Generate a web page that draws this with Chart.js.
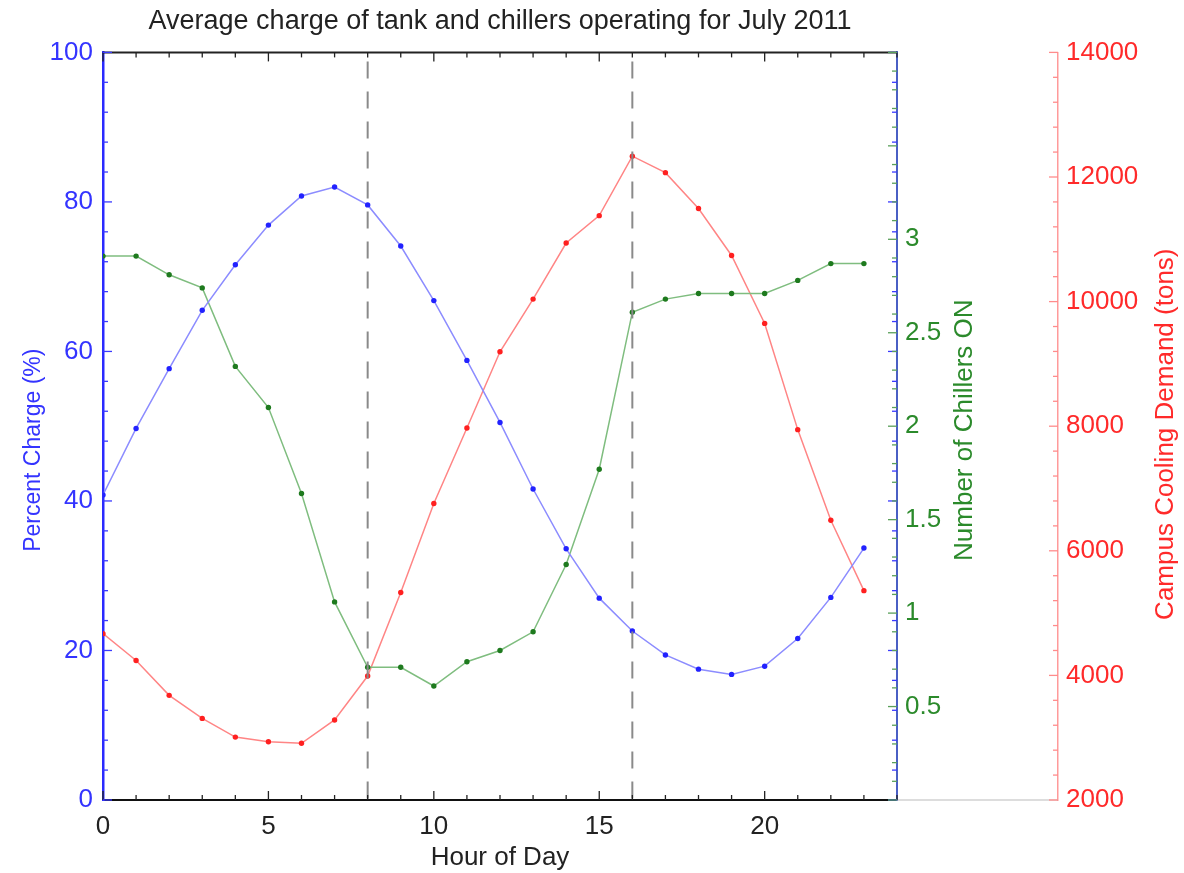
<!DOCTYPE html>
<html>
<head>
<meta charset="utf-8">
<title>Average charge of tank and chillers operating for July 2011</title>
<script src="https://cdn.jsdelivr.net/npm/chart.js@4/dist/chart.umd.min.js"></script>
<style>
  html, body { margin: 0; padding: 0; background: #fff; }
  #wrap { width: 1184px; height: 873px; }
</style>
</head>
<body>
<div id="wrap"><canvas id="chart"></canvas></div>
<script>
// hourly averages, July 2011
const hours = [0, 1, 2, 3, 4, 5, 6, 7, 8, 9, 10, 11, 12, 13, 14, 15, 16, 17, 18, 19, 20, 21, 22, 23];
const percentCharge = [40.8, 49.7, 57.7, 65.5, 71.6, 76.9, 80.8, 82.0, 79.6, 74.1, 66.8, 58.8,
                       50.5, 41.6, 33.6, 27.0, 22.6, 19.4, 17.5, 16.8, 17.9, 21.6, 27.1, 33.7];
const chillersOn = [2.91, 2.91, 2.81, 2.74, 2.32, 2.10, 1.64, 1.06, 0.71, 0.71, 0.61, 0.74,
                    0.80, 0.90, 1.26, 1.77, 2.61, 2.68, 2.71, 2.71, 2.71, 2.78, 2.87, 2.87];
const coolingDemand = [4670, 4240, 3680, 3310, 3010, 2935, 2910, 3285, 3990, 5330, 6760, 7970,
                       9195, 10040, 10940, 11380, 12335, 12070, 11495, 10740, 9650, 7945, 6490, 5360];
const switchHours = [8, 16];

// axis ticks
const hourTicks = [0, 5, 10, 15, 20];
const chargeTicks = [0, 20, 40, 60, 80, 100];
const chillerTicks = [0.5, 1, 1.5, 2, 2.5, 3];
const demandTicks = [2000, 4000, 6000, 8000, 10000, 12000, 14000];

const FONT = "'Liberation Sans', Arial, Helvetica, sans-serif";
const BLUE_TXT = '#3434ff', GREEN_TXT = '#2b8a2b', RED_TXT = '#ff2a2a';

function pts(vals) {
  return hours.map((h, i) => ({ x: h, y: vals[i] }));
}

const datasets = [
  ...switchHours.map(h => ({
    data: [{ x: h, y: 100 }, { x: h, y: 0 }],
    yAxisID: 'y',
    borderColor: '#8a8a8a',
    borderWidth: 2,
    borderDash: [17, 13],
    borderDashOffset: 21,
    pointRadius: 0
  })),
  {
    label: 'Percent Charge',
    data: pts(percentCharge),
    yAxisID: 'y',
    borderColor: '#8c8cff',
    borderWidth: 1.5,
    pointRadius: 2.7,
    pointBorderWidth: 0,
    pointBackgroundColor: '#2222ff'
  },
  {
    label: 'Number of Chillers ON',
    data: pts(chillersOn),
    yAxisID: 'yChillers',
    borderColor: '#7fbd7f',
    borderWidth: 1.5,
    pointRadius: 2.7,
    pointBorderWidth: 0,
    pointBackgroundColor: '#1e7a1e'
  },
  {
    label: 'Campus Cooling Demand',
    data: pts(coolingDemand),
    yAxisID: 'yDemand',
    borderColor: '#ff8585',
    borderWidth: 1.5,
    pointRadius: 2.7,
    pointBorderWidth: 0,
    pointBackgroundColor: '#ff2020'
  }
];

function line(ctx, x1, y1, x2, y2) {
  ctx.beginPath();
  ctx.moveTo(x1, y1);
  ctx.lineTo(x2, y2);
  ctx.stroke();
}

// IDL style inward ticks, top border and the rotated y titles
const idlAxes = {
  id: 'idlAxes',
  afterDraw(chart) {
    const { ctx, chartArea: a, scales } = chart;
    const x = scales.x, yc = scales.y, yg = scales.yChillers, yd = scales.yDemand;
    ctx.save();

    ctx.strokeStyle = '#bbbbbb';
    ctx.lineWidth = 1;
    line(ctx, a.right, a.bottom, yd.left, a.bottom);

    ctx.strokeStyle = '#222';
    ctx.lineWidth = 2;
    line(ctx, a.left, a.top, a.right, a.top);
    ctx.lineWidth = 1.3;
    for (let h = 0; h <= 24; h++) {
      const px = x.getPixelForValue(h);
      const len = h % 5 === 0 ? 9 : 5;
      line(ctx, px, a.bottom, px, a.bottom - len);
      line(ctx, px, a.top, px, a.top + len);
    }

    ctx.strokeStyle = '#3a3aff';
    for (let v = 0; v <= 100; v += 4) {
      const py = yc.getPixelForValue(v);
      const len = v % 20 === 0 ? 9 : 5;
      line(ctx, a.left, py, a.left + len, py);
      line(ctx, a.right, py, a.right - len, py);
    }

    ctx.strokeStyle = '#5aa05a';
    for (let i = 0; i <= 40; i++) {
      const py = yg.getPixelForValue(i / 10);
      const len = i % 5 === 0 ? 9 : 5;
      line(ctx, a.right, py, a.right - len, py);
    }

    ctx.strokeStyle = '#ff8c8c';
    for (let v = 2000; v <= 14000; v += 400) {
      const py = yd.getPixelForValue(v);
      const len = v % 2000 === 0 ? 9 : 5;
      line(ctx, yd.left, py, yd.left - len, py);
    }

    ctx.textAlign = 'center';
    ctx.textBaseline = 'middle';
    const midY = (a.top + a.bottom) / 2;
    [[yc.left + 34, midY + 24, 23, BLUE_TXT, 'Percent Charge (%)'],
     [yg.left + 68, midY + 4, 26, GREEN_TXT, 'Number of Chillers ON'],
     [yd.left + 108, midY + 8, 26, RED_TXT, 'Campus Cooling Demand (tons)']].forEach(([tx, ty, size, col, txt]) => {
      ctx.save();
      ctx.font = size + 'px ' + FONT;
      ctx.translate(tx, ty);
      ctx.rotate(-Math.PI / 2);
      ctx.fillStyle = col;
      ctx.fillText(txt, 0, 0);
      ctx.restore();
    });
    ctx.restore();
  }
};

const fixedTicks = list => scale => { scale.ticks = list.map(v => ({ value: v })); };
const plain = v => String(v);

new Chart(document.getElementById('chart'), {
  type: 'line',
  data: { datasets },
  plugins: [idlAxes],
  options: {
    responsive: true,
    maintainAspectRatio: false,
    animation: false,
    layout: { padding: 0 },
    plugins: {
      legend: { display: false },
      tooltip: { enabled: false },
      title: {
        display: true,
        fullSize: false,
        text: 'Average charge of tank and chillers operating for July 2011',
        color: '#222',
        font: { family: FONT, size: 27, weight: 'normal' },
        padding: { top: 5, bottom: 15 }
      }
    },
    scales: {
      x: {
        type: 'linear',
        min: 0,
        max: 24,
        afterBuildTicks: fixedTicks(hourTicks),
        afterFit: s => { s.height = 73; },
        grid: { display: false, drawTicks: false },
        border: { display: true, color: '#111', width: 2 },
        ticks: { color: '#222', padding: 11, font: { family: FONT, size: 26 }, callback: plain },
        title: {
          display: true,
          text: 'Hour of Day',
          color: '#222',
          font: { family: FONT, size: 26 },
          padding: { top: 0, bottom: 0 }
        }
      },
      y: {
        position: 'left',
        min: 0,
        max: 100,
        afterBuildTicks: fixedTicks(chargeTicks),
        afterFit: s => { s.width = 103; },
        grid: { display: false, drawTicks: false },
        border: { display: true, color: '#2a2aff', width: 2.5 },
        ticks: { color: BLUE_TXT, padding: 10, font: { family: FONT, size: 26 }, callback: plain }
      },
      yChillers: {
        position: 'right',
        weight: 1,
        min: 0,
        max: 4,
        afterBuildTicks: fixedTicks(chillerTicks),
        afterFit: s => { s.width = 161; },
        grid: { display: false, drawTicks: false },
        border: { display: true, color: '#4a5fc4', width: 2 },
        ticks: { color: GREEN_TXT, padding: 8, font: { family: FONT, size: 26 }, callback: plain }
      },
      yDemand: {
        position: 'right',
        weight: 2,
        min: 2000,
        max: 14000,
        afterBuildTicks: fixedTicks(demandTicks),
        afterFit: s => { s.width = 126; },
        grid: { display: false, drawTicks: false },
        border: { display: true, color: '#ff9a9a', width: 1.5 },
        ticks: { color: RED_TXT, padding: 8, font: { family: FONT, size: 26 }, callback: plain }
      }
    }
  }
});
</script>
</body>
</html>
